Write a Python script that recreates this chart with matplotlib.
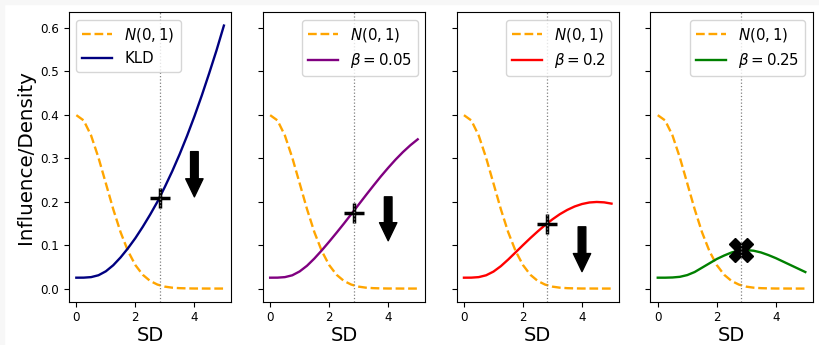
import matplotlib
matplotlib.use("Agg")
import matplotlib.pyplot as plt
from matplotlib.patches import Rectangle

# ---------------------------------------------------------
# values
# ---------------------------------------------------------
sd = [0.0, 0.25, 0.5, 0.75, 1.0, 1.25, 1.5, 1.75, 2.0, 2.25, 2.5,
      2.75, 3.0, 3.25, 3.5, 3.75, 4.0, 4.25, 4.5, 4.75, 5.0]

normal_density = [0.3989, 0.3867, 0.3521, 0.3011, 0.2420, 0.1826, 0.1295,
                  0.0863, 0.0540, 0.0317, 0.0175, 0.0091, 0.0044, 0.0020,
                  0.0009, 0.0004, 0.0001, 0.0001, 0.0, 0.0, 0.0]

infl_kld = [0.025, 0.0251, 0.0263, 0.0306, 0.0397, 0.0536, 0.0717, 0.0927,
            0.116, 0.142, 0.170, 0.200, 0.234, 0.270, 0.309, 0.351, 0.396,
            0.444, 0.495, 0.548, 0.605]

infl_b005 = [0.025, 0.0251, 0.0263, 0.0305, 0.0394, 0.0525, 0.0692, 0.0879,
             0.1078, 0.1284, 0.1495, 0.1713, 0.1932, 0.2152, 0.2368, 0.2579,
             0.2778, 0.2967, 0.3140, 0.3296, 0.3433]

infl_b02 = [0.025, 0.0251, 0.0263, 0.0305, 0.0390, 0.0515, 0.0668, 0.0833,
            0.0999, 0.1161, 0.1315, 0.1461, 0.1593, 0.1711, 0.1809, 0.1888,
            0.1945, 0.1980, 0.1992, 0.1983, 0.1954]

infl_b025 = [0.025, 0.025, 0.0255, 0.027, 0.031, 0.038, 0.048, 0.058, 0.068,
             0.076, 0.083, 0.0875, 0.0885, 0.087, 0.083, 0.077, 0.070, 0.062,
             0.054, 0.046, 0.038]

labels = ["KLD", r"$\beta = 0.05$", r"$\beta = 0.2$", r"$\beta = 0.25$"]
colors = ["navy", "purple", "red", "green"]
curves = [infl_kld, infl_b005, infl_b02, infl_b025]

# point of interest on each curve and the arrows (None = no arrow)
cut_sd = 2.83
cut_vals = [0.209, 0.174, 0.148, 0.089]
cut_markers = ["+", "+", "+", "X"]
arrow_x = 4.0
arrow_top = [0.315, 0.211, 0.142, None]
arrow_tip = [0.211, 0.110, 0.039, None]

# ---------------------------------------------------------
# figure
# ---------------------------------------------------------
fig, axes = plt.subplots(1, 4, sharey=True, figsize=(8.19, 3.45), dpi=100)
fig.subplots_adjust(left=0.0842, right=0.9923, bottom=0.1255, top=0.964,
                    wspace=0.194)

for i, ax in enumerate(axes):
    ax.plot(sd, normal_density, "--", color="orange", lw=1.7,
            label=r"$N(0,1)$")
    ax.plot(sd, curves[i], "-", color=colors[i], lw=1.7, label=labels[i])

    if cut_markers[i] == "+":
        ax.plot(cut_sd, cut_vals[i], "+", color="black", ms=14, mew=2.5)
    else:
        ax.plot(cut_sd, cut_vals[i], "X", color="black", ms=17)

    if arrow_top[i] is not None:
        ax.annotate("", xy=(arrow_x, arrow_tip[i]),
                    xytext=(arrow_x, arrow_top[i]),
                    arrowprops=dict(facecolor="black", edgecolor="black",
                                    width=5.5, headwidth=12.5,
                                    headlength=13, shrink=0.0))

    ax.axvline(cut_sd, color="gray", ls=":", lw=0.9)

    ax.set_xticks([0, 2, 4])
    ax.tick_params(labelsize=8.6)
    ax.set_xlabel("SD", fontsize=14, labelpad=1)
    ax.legend(loc="upper left" if i == 0 else "upper right", fontsize=10.8)

axes[0].set_yticks([0.0, 0.1, 0.2, 0.3, 0.4, 0.5, 0.6])
axes[0].set_ylabel("Influence/Density", fontsize=14.3)

# light grey border strip seen on the reference image
fig.patches.append(Rectangle((0, 1 - 4 / 345), 1, 4 / 345,
                             transform=fig.transFigure, color="#f7f7f7",
                             zorder=-1))
fig.patches.append(Rectangle((0, 0), 4 / 819, 1,
                             transform=fig.transFigure, color="#f7f7f7",
                             zorder=-1))

fig.savefig("out.png", dpi=100)
